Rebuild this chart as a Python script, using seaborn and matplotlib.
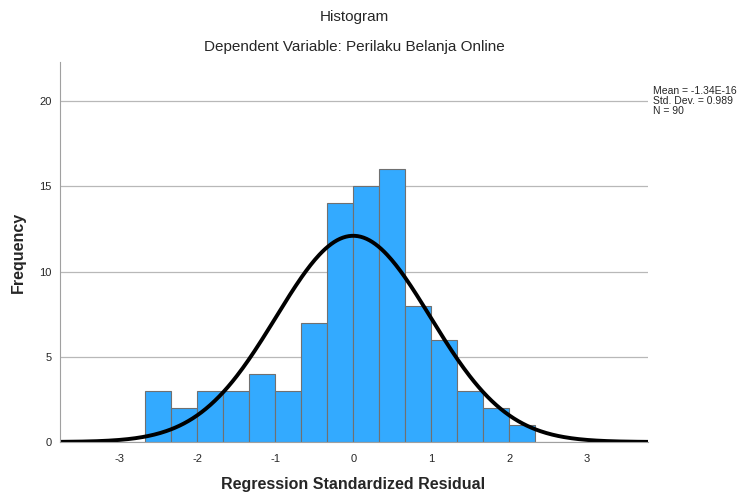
import numpy as np
import pandas as pd
import matplotlib
matplotlib.use("Agg")
import matplotlib.pyplot as plt
import seaborn as sns

# bin edges (width 1/3)
bin_edges = [i / 3.0 for i in range(-8, 8)]
counts = [3, 2, 3, 3, 4, 3, 7, 14, 15, 16, 8, 6, 3, 2, 1]
mean = -1.34e-16
std = 0.989
n = 90

centers = [(a + b) / 2 for a, b in zip(bin_edges[:-1], bin_edges[1:])]
df = pd.DataFrame({"resid": centers, "freq": counts})

sns.set_style("white")
plt.rcParams['font.family'] = ['Liberation Sans', 'DejaVu Sans']
plt.rcParams['axes.unicode_minus'] = False

fig = plt.figure(figsize=(7.44, 4.96), dpi=100)
ax = fig.add_axes([60/744, 54/496, 588/744, 380/496])

sns.histplot(data=df, x="resid", weights="freq", bins=bin_edges, ax=ax,
             color="#33aaff", edgecolor="#707070", linewidth=0.8, alpha=1)

xs = np.linspace(-3.76, 3.78, 400)
ys = n * (1/3) * np.exp(-0.5 * ((xs - mean) / std) ** 2) / (std * np.sqrt(2*np.pi))
sns.lineplot(x=xs, y=ys, ax=ax, color="black", linewidth=2.8)

ax.set_xlim(-3.76, 3.78)
ax.set_ylim(0, 22.3)
ax.set_xticks([-3, -2, -1, 0, 1, 2, 3])
ax.set_yticks([0, 5, 10, 15, 20])
ax.tick_params(length=0, labelsize=8, pad=6)
ax.tick_params(axis="x", pad=9)
ax.yaxis.grid(True, color="#b8b8b8", linewidth=0.9)
ax.set_axisbelow(True)
for s in ["top", "right"]:
    ax.spines[s].set_visible(False)
for s in ["left", "bottom"]:
    ax.spines[s].set_color("#a0a0a0")

ax.set_xlabel("")
ax.set_ylabel("Frequency", fontsize=11.5, fontweight="bold", labelpad=10)
fig.text(353/744, 1 - 485/496, "Regression Standardized Residual",
         ha="center", va="center", fontsize=11.5, fontweight="bold")

fig.text(0.5 * (60 + 648) / 744, 1 - 17/496, "Histogram", ha="center", va="center", fontsize=11)
fig.text(0.5 * (60 + 648) / 744, 1 - 47/496, "Dependent Variable: Perilaku Belanja Online",
         ha="center", va="center", fontsize=11)
fig.text(653/744, 1 - 101/496, "Mean = -1.34E-16\nStd. Dev. = 0.989\nN = 90",
         ha="left", va="center", fontsize=7.5, linespacing=1.05)

fig.savefig("out.png", dpi=100)
